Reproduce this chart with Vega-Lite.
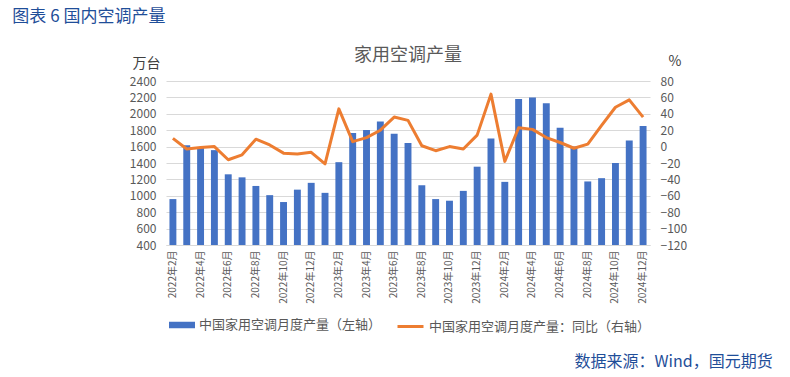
{
  "$schema": "https://vega.github.io/schema/vega-lite/v6.json",
  "padding": {"left": 12, "top": 8, "right": 5, "bottom": 5},
  "background": "white",
  "config": {
    "font": "Noto Sans CJK SC",
    "view": {"stroke": null},
    "concat": {"spacing": 0}
  },
  "title": {"text": "数据来源：Wind，国元期货", "orient": "bottom", "anchor": "end", "fontSize": 16, "fontWeight": "normal", "color": "#1F4E99", "font": "Noto Sans CJK SC", "offset": 17, "dx": 86},
  "vconcat": [
    {
      "title": {"text": "图表 6 国内空调产量", "anchor": "start", "fontSize": 17, "fontWeight": "normal", "color": "#1F4E99", "font": "Noto Sans CJK SC", "dx": -117, "offset": 21},
      "vconcat": [
        {
          "width": 484,
          "height": 164,
          "title": {"text": "家用空调产量", "fontSize": 18, "fontWeight": "normal", "color": "#595959", "anchor": "middle", "frame": "group", "offset": -11},
          "data": {"values": [
            {"month": "2022年2月", "output": 960, "yoy": 10},
            {"month": "2022年3月", "output": 1615, "yoy": -3},
            {"month": "2022年4月", "output": 1592, "yoy": -1},
            {"month": "2022年5月", "output": 1557, "yoy": 0},
            {"month": "2022年6月", "output": 1262, "yoy": -16},
            {"month": "2022年7月", "output": 1225, "yoy": -10},
            {"month": "2022年8月", "output": 1120, "yoy": 9},
            {"month": "2022年9月", "output": 1008, "yoy": 2},
            {"month": "2022年10月", "output": 924, "yoy": -8},
            {"month": "2022年11月", "output": 1075, "yoy": -9},
            {"month": "2022年12月", "output": 1158, "yoy": -7},
            {"month": "2023年1月", "output": 1036, "yoy": -21},
            {"month": "2023年2月", "output": 1410, "yoy": 46},
            {"month": "2023年3月", "output": 1767, "yoy": 6},
            {"month": "2023年4月", "output": 1802, "yoy": 11},
            {"month": "2023年5月", "output": 1907, "yoy": 20},
            {"month": "2023年6月", "output": 1758, "yoy": 36},
            {"month": "2023年7月", "output": 1645, "yoy": 32},
            {"month": "2023年8月", "output": 1130, "yoy": 1},
            {"month": "2023年9月", "output": 960, "yoy": -5},
            {"month": "2023年10月", "output": 940, "yoy": 0},
            {"month": "2023年11月", "output": 1060, "yoy": -3},
            {"month": "2023年12月", "output": 1355, "yoy": 14},
            {"month": "2024年1月", "output": 1700, "yoy": 64},
            {"month": "2024年2月", "output": 1170, "yoy": -18},
            {"month": "2024年3月", "output": 2180, "yoy": 23},
            {"month": "2024年4月", "output": 2200, "yoy": 21},
            {"month": "2024年5月", "output": 2130, "yoy": 11},
            {"month": "2024年6月", "output": 1830, "yoy": 5},
            {"month": "2024年7月", "output": 1600, "yoy": -2},
            {"month": "2024年8月", "output": 1175, "yoy": 3},
            {"month": "2024年9月", "output": 1215, "yoy": 26},
            {"month": "2024年10月", "output": 1400, "yoy": 48},
            {"month": "2024年11月", "output": 1675, "yoy": 57},
            {"month": "2024年12月", "output": 1850, "yoy": 36}
          ]},
          "encoding": {
            "x": {
              "field": "month", "type": "ordinal", "sort": null,
              "scale": {"paddingInner": 0.5, "paddingOuter": 0.25},
              "axis": {
                "title": null, "labelAngle": -90, "labelFontSize": 10, "labelColor": "#595959",
                "ticks": false, "labelPadding": 5, "domainColor": "#D9D9D9",
                "values": ["2022年2月","2022年4月","2022年6月","2022年8月","2022年10月","2022年12月","2023年2月","2023年4月","2023年6月","2023年8月","2023年10月","2023年12月","2024年2月","2024年4月","2024年6月","2024年8月","2024年10月","2024年12月"]
              }
            }
          },
          "layer": [
            {
              "mark": {"type": "bar", "clip": true},
              "encoding": {
                "y": {
                  "field": "output", "type": "quantitative",
                  "scale": {"domain": [400, 2400], "zero": false},
                  "axis": {
                    "title": "万台", "titleAngle": 0, "titleAlign": "right", "titleBaseline": "alphabetic",
                    "titleX": -6, "titleY": -14, "titleFontSize": 14, "titleFontWeight": "normal", "titleColor": "#404040",
                    "values": [400,600,800,1000,1200,1400,1600,1800,2000,2200,2400], "format": "d",
                    "labelFontSize": 12, "labelColor": "#595959", "labelPadding": 10,
                    "domain": false, "ticks": false, "gridColor": "#D9D9D9"
                  }
                },
                "fill": {
                  "datum": "中国家用空调月度产量（左轴）",
                  "scale": {"range": ["#4472C4"]},
                  "legend": {"title": null, "orient": "bottom", "offset": 5, "padding": 3, "labelLimit": 0, "symbolType": "M-1,-0.25H1V0.25H-1Z", "symbolSize": 676, "labelFontSize": 13, "labelColor": "#595959", "symbolStrokeWidth": 0}
                }
              }
            },
            {
              "mark": {"type": "line", "strokeWidth": 3, "strokeJoin": "round"},
              "encoding": {
                "y": {
                  "field": "yoy", "type": "quantitative",
                  "scale": {"domain": [-120, 80]},
                  "axis": {
                    "orient": "right",
                    "title": "%", "titleAngle": 0, "titleAlign": "left", "titleBaseline": "alphabetic",
                    "titleX": 18, "titleY": -16, "titleFontSize": 14, "titleFontWeight": "normal", "titleColor": "#404040",
                    "values": [-120,-100,-80,-60,-40,-20,0,20,40,60,80], "format": "d",
                    "labelFontSize": 12, "labelColor": "#595959", "labelPadding": 10,
                    "domain": false, "ticks": false, "grid": false
                  }
                },
                "stroke": {
                  "datum": "中国家用空调月度产量：同比（右轴）",
                  "scale": {"range": ["#ED7D31"]},
                  "legend": {"title": null, "orient": "bottom", "offset": 5, "padding": 3, "labelLimit": 0, "symbolType": "stroke", "symbolSize": 676, "symbolStrokeWidth": 3, "labelFontSize": 13, "labelColor": "#595959"}
                }
              }
            }
          ],
          "resolve": {"scale": {"y": "independent"}}
        }
      ]
    }
  ]
}
